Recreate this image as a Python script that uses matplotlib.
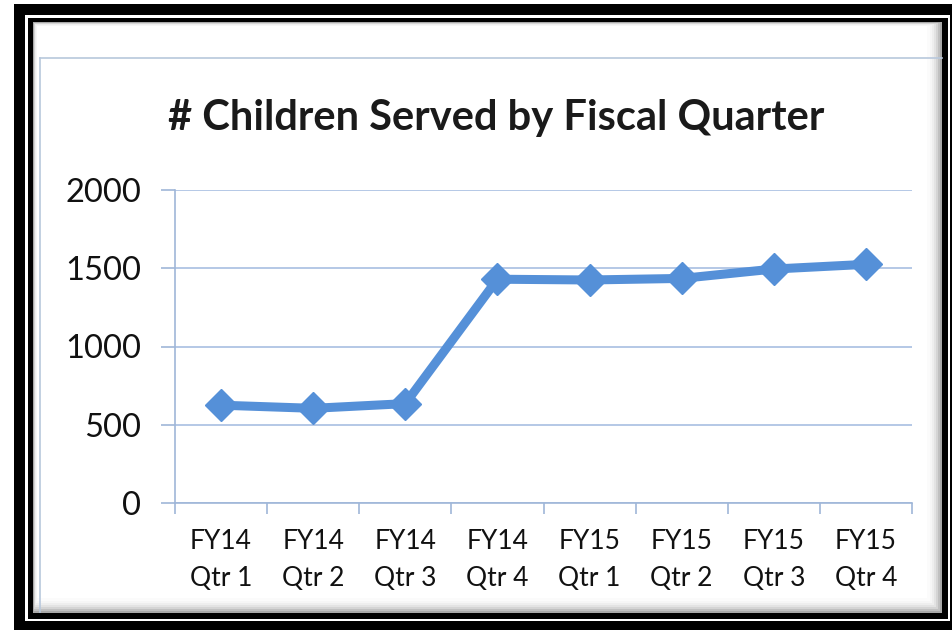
import matplotlib
matplotlib.use("Agg")
import matplotlib.pyplot as plt
from matplotlib.patches import Rectangle
from matplotlib.lines import Line2D

categories = ["FY14\nQtr 1", "FY14\nQtr 2", "FY14\nQtr 3", "FY14\nQtr 4",
              "FY15\nQtr 1", "FY15\nQtr 2", "FY15\nQtr 3", "FY15\nQtr 4"]
children = [625, 605, 635, 1430, 1425, 1435, 1495, 1525]
yticks = [0, 500, 1000, 1500, 2000]
title = "# Children Served by Fiscal Quarter"

W, H = 953, 630
plt.rcParams['font.family'] = ['Lato', 'DejaVu Sans']
fig = plt.figure(figsize=(W / 100, H / 100), dpi=100, facecolor="white")


def rect_px(x0, y0, x1, y1, color, z=0, alpha=1.0):
    fig.add_artist(Rectangle((x0 / W, 1 - y1 / H), (x1 - x0) / W, (y1 - y0) / H,
                             transform=fig.transFigure, facecolor=color,
                             edgecolor="none", zorder=z, alpha=alpha))


# frame: outer black, white gap, inner black, shadowed interior
rect_px(14, 4, 953, 630, "black", z=-10)
rect_px(25, 15, 950, 621, "white", z=-9)
rect_px(28, 18, 948, 619, "black", z=-8)
rect_px(33, 22, 942, 613, "#8f8f8f", z=-7)
for i, c in enumerate(["#a8a8a8", "#c0c0c0", "#d4d4d4", "#e3e3e3", "#eeeeee", "#f6f6f6", "#fbfbfb"]):
    rect_px(33 + i * 0.6, 22 + i * 0.6, 942 - i * 2, 613 - i * 2, c, z=-7 + 0.1 * (i + 1))
rect_px(37, 26, 927, 598, "white", z=-6)

# chart area border (light blue-gray)
fig.add_artist(Line2D([40 / W, 40 / W], [1 - 58 / H, 1 - 612 / H], transform=fig.transFigure,
                      color="#b8c8dc", lw=1.2, zorder=-5))
fig.add_artist(Line2D([40 / W, 942 / W], [1 - 58 / H, 1 - 58 / H], transform=fig.transFigure,
                      color="#b8c8dc", lw=1.2, zorder=-5))

ax = fig.add_axes([175 / W, 1 - 503 / H, (912 - 175) / W, (503 - 190) / H])
ax.set_facecolor("none")
x = list(range(len(categories)))
ax.plot(x, children, color="#5590d8", lw=6.5, marker="D", markersize=16,
        markerfacecolor="#5590d8", markeredgecolor="#5590d8", zorder=3, clip_on=False)

ax.set_xlim(-0.5, len(categories) - 0.5)
ax.set_ylim(0, 2000)
ax.set_yticks(yticks)
ax.set_yticklabels([str(v) for v in yticks], fontsize=23.5, color="#111111")
ax.set_xticks(x)
ax.set_xticklabels(categories, fontsize=19, color="#111111", linespacing=1.6)
ax.tick_params(axis="x", length=0, pad=19)
ax.set_xticks([i - 0.5 for i in range(len(categories) + 1)], minor=True)
ax.tick_params(axis="x", which="minor", length=8, color="#9fb6d8", width=1.2, direction="out")
ax.tick_params(axis="y", length=10, color="#9fb6d8", width=1.2, pad=14.5)

ax.grid(axis="y", color="#a8bfe2", lw=1.2)
ax.set_axisbelow(True)
for s in ["top", "right"]:
    ax.spines[s].set_visible(False)
for s in ["left", "bottom"]:
    ax.spines[s].set_color("#9fb6d8")
    ax.spines[s].set_linewidth(1.2)

fig.text(496 / W, 1 - 118 / H, title, ha="center", va="center", fontsize=30,
         fontweight="bold", color="#1a1a1a")

fig.savefig("out.png", dpi=100, facecolor="white")
